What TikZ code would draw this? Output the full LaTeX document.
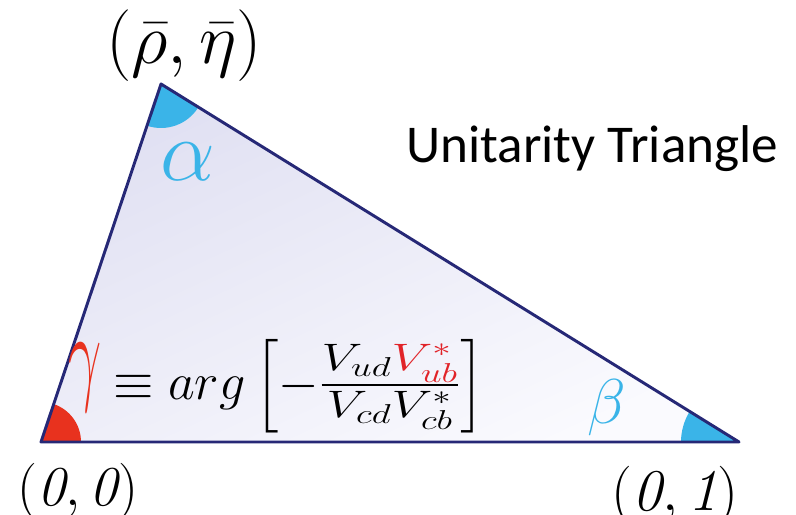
\RequirePackage{fix-cm}
\documentclass[tikz,border=0pt]{standalone}
\usepackage{amsmath,amssymb}
\usepackage{graphicx}
\usepackage{fontspec}
\usepackage{xcolor}
\usepackage{tikz}
\usetikzlibrary{positioning}
\newfontfamily\titlefont{Carlito}
\definecolor{edgenavy}{RGB}{38,40,118}
\definecolor{lavender}{RGB}{224,224,242}
\definecolor{paleend}{RGB}{250,250,254}
\definecolor{angblue}{RGB}{58,180,232}
\definecolor{angred}{RGB}{232,50,30}
\definecolor{ckmred}{RGB}{225,35,40}

\begin{document}
\begin{tikzpicture}[x=0.025cm,y=0.025cm,
side/.style={draw=edgenavy,line width=2.1pt,line join=round},
wedgeblue/.style={fill=angblue},
wedgered/.style={fill=angred},
vertexlabel/.style={inner sep=0pt,font=\fontsize{40}{44}\selectfont},
anglelabel/.style={inner sep=0pt,text=angblue}
]
\useasboundingbox (0,0) rectangle (796,514);
\coordinate (O) at (41,72);
\coordinate (R) at (739,72);
\coordinate (T) at (161,430);

\shade[top color=lavender,bottom color=paleend,shading angle=25] (O) -- (R) -- (T) -- cycle;
\fill[wedgered] (O) -- ++(0:40) arc[start angle=0,end angle=71.47,radius=40] -- cycle;
\fill[wedgeblue] (R) -- ++(148.23:58) arc[start angle=148.23,end angle=180,radius=58] -- cycle;
\fill[wedgeblue] (T) -- ++(251.47:44) arc[start angle=251.47,end angle=328.23,radius=44] -- cycle;
\draw[side] (O) -- (R) -- (T) -- cycle;

\node[inner sep=0pt,anchor=base west,font=\fontsize{51}{56}\selectfont] (apexlbl) at (106,450) {$(\bar\rho,\bar\eta)$};
\node[vertexlabel,anchor=base west] (originlbl) at (17,9) {$(\mathit{0},\mathit{0})$};
\node[vertexlabel,anchor=base east,font=\fontsize{42}{46}\selectfont] (unitlbl) at (739,4) {$(\mathit{0},\mathit{1})$};

\node[anglelabel,font=\fontsize{62}{66}\selectfont] (alphalbl) at (188,352) {$\alpha$};
\node[anglelabel,font=\fontsize{45}{50}\selectfont] (betalbl) at (607,106) {$\beta$};
\node[inner sep=0pt,text=angred,font=\fontsize{60}{64}\selectfont] (gammalbl) at (85,136) {\scalebox{0.7}[1.3]{$\gamma$}};
\node[inner sep=0pt,anchor=west,font=\fontsize{37}{42}\selectfont] (argdef) at (113,128)
  {$\equiv arg\left[-\scalebox{1.42}[1.05]{$\frac{V_{ud}\textcolor{ckmred}{V_{ub}^*}}{V_{cd}V_{cb}^*}$}\right]$};

\node[inner sep=0pt,anchor=base west,font=\titlefont\fontsize{37.8}{44}\selectfont] (title) at (406,351) {Unitarity Triangle};
\end{tikzpicture}
\end{document}
